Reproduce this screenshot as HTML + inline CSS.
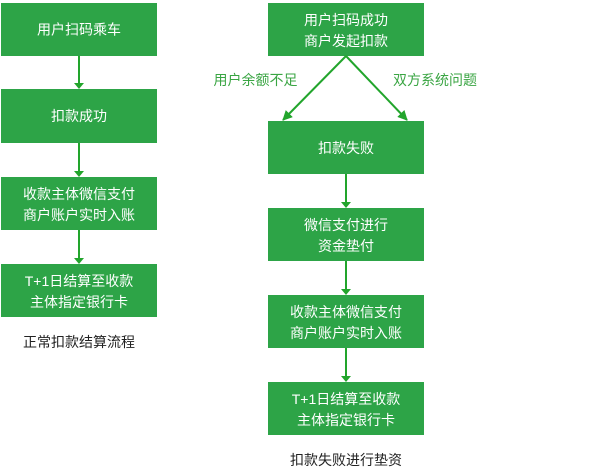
<!DOCTYPE html>
<html><head><meta charset="utf-8"><style>
html,body{margin:0;padding:0;background:#fff;}
svg{display:block;}
text{font-family:"Liberation Sans","Noto Sans CJK SC",sans-serif;font-size:14px;}
</style></head><body>
<svg width="600" height="473" viewBox="0 0 600 473" xmlns="http://www.w3.org/2000/svg">
<defs>
<marker id="ah" markerWidth="10" markerHeight="10" refX="9" refY="5" orient="auto" markerUnits="userSpaceOnUse">
<path d="M0,0 L10,5 L0,10 Z" fill="#22a52c"/>
</marker>
</defs>
<g fill="#2da447">
<rect x="1" y="3" width="156" height="53"/>
<rect x="1" y="89" width="156" height="54"/>
<rect x="1" y="177" width="156" height="53"/>
<rect x="1" y="264" width="156" height="53"/>
<rect x="268" y="3" width="156" height="53"/>
<rect x="268" y="121" width="156" height="53"/>
<rect x="268" y="208" width="156" height="53"/>
<rect x="268" y="295" width="156" height="53"/>
<rect x="268" y="382" width="156" height="53"/>
</g>
<g stroke="#22a52c" stroke-width="2" fill="#22a52c">
<line x1="79" y1="56" x2="79" y2="83"/>
<line x1="79" y1="143" x2="79" y2="171"/>
<line x1="79" y1="230" x2="79" y2="258"/>
<line x1="346" y1="174" x2="346" y2="202"/>
<line x1="346" y1="261" x2="346" y2="289"/>
<line x1="346" y1="348" x2="346" y2="376"/>
</g>
<g fill="#22a52c">
<path d="M74,83 L84,83 L79,89 Z"/>
<path d="M74,171 L84,171 L79,177 Z"/>
<path d="M74,258 L84,258 L79,264 Z"/>
<path d="M341,202 L351,202 L346,208 Z"/>
<path d="M341,289 L351,289 L346,295 Z"/>
<path d="M341,376 L351,376 L346,382 Z"/>
</g>
<line x1="346" y1="56" x2="283" y2="120" stroke="#22a52c" stroke-width="2" marker-end="url(#ah)"/>
<line x1="346" y1="56" x2="407" y2="120" stroke="#22a52c" stroke-width="2" marker-end="url(#ah)"/>
<g fill="#fff" text-anchor="middle">
<text x="79" y="34.5">用户扫码乘车</text>
<text x="79" y="121">扣款成功</text>
<text x="79" y="199">收款主体微信支付</text>
<text x="79" y="220">商户账户实时入账</text>
<text x="79" y="286">T+1日结算至收款</text>
<text x="79" y="307">主体指定银行卡</text>
<text x="346" y="25">用户扫码成功</text>
<text x="346" y="46">商户发起扣款</text>
<text x="346" y="153">扣款失败</text>
<text x="346" y="230">微信支付进行</text>
<text x="346" y="251">资金垫付</text>
<text x="346" y="317">收款主体微信支付</text>
<text x="346" y="338">商户账户实时入账</text>
<text x="346" y="404">T+1日结算至收款</text>
<text x="346" y="425">主体指定银行卡</text>
</g>
<g fill="#3aa543" text-anchor="middle">
<text x="255.5" y="85">用户余额不足</text>
<text x="435" y="85">双方系统问题</text>
</g>
<g fill="#222" text-anchor="middle">
<text x="79" y="347">正常扣款结算流程</text>
<text x="346" y="465">扣款失败进行垫资</text>
</g>
</svg>
</body></html>
